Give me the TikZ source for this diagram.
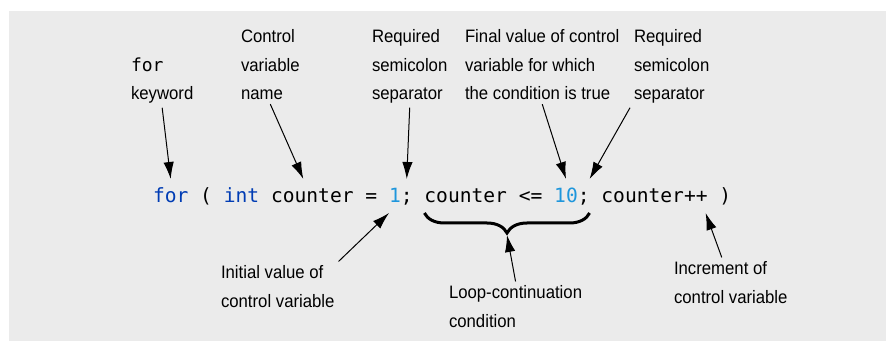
\documentclass[tikz,border=0pt]{standalone}
\usepackage{fontspec}
\usepackage{tikz}
\usetikzlibrary{calc,positioning,arrows.meta,decorations.pathreplacing}
\usepackage{xcolor}
\newfontfamily\codefont{DejaVu Sans Mono}
\newfontfamily\lblfont[FakeStretch=0.93]{Liberation Sans}
\definecolor{bgcol}{RGB}{235,235,235}
\definecolor{kwblue}{RGB}{0,60,180}
\definecolor{numblue}{RGB}{30,150,220}

\tikzset{
  code/.style={anchor=base west, inner sep=0pt, outer xsep=0pt, outer ysep=5pt,
    text height=7pt, text depth=0pt, font=\codefont\fontsize{9.8}{12}\selectfont},
  lbl/.style={anchor=base west, align=left, inner sep=0pt, outer sep=2pt,
    font=\lblfont\fontsize{9}{14.25}\selectfont},
  ptr/.style={-{Latex[length=8.5pt,width=5.2pt]}, line width=0.5pt}
}

\begin{document}
\begin{tikzpicture}[x=0.5pt, y=-0.5pt]
  \useasboundingbox (0,0) rectangle (886,341);
  \fill[bgcol] (9,11) rectangle (886,341);

  % the statement, one token per node (11.8 units per character)
  \def\cw{11.8}
  \node[code, kwblue]  (forkw) at (153+0*\cw,203)  {for};
  \node[code]          (lp)    at (153+4*\cw,203)  {(};
  \node[code, kwblue]  (intkw) at (153+6*\cw,203)  {int};
  \node[code]          (ctr)   at (153+10*\cw,203) {counter};
  \node[code]          (eq)    at (153+18*\cw,203) {=};
  \node[code, numblue] (init)  at (153+20*\cw,203) {1};
  \node[code]          (semi1) at (153+21*\cw,203) {;};
  \node[code]          (cond)  at (153+23*\cw,203) {counter};
  \node[code]          (le)    at (153+31*\cw,203) {<=};
  \node[code, numblue] (final) at (153+34*\cw,203) {10};
  \node[code]          (semi2) at (153+36*\cw,203) {;};
  \node[code]          (incr)  at (153+38*\cw,203) {counter++};
  \node[code]          (rp)    at (153+48*\cw,203) {)};

  % labels above (placed at the baseline of their last line)
  \node[lbl] (forlbl)     at (127,100) {{\codefont\fontsize{9}{14.25}\selectfont for}\\keyword};
  \node[lbl] (ctrlbl)     at (237,100) {Control\\variable\\name};
  \node[lbl] (semilbl)    at (368,100) {Required\\semicolon\\separator};
  \node[lbl] (finallbl)   at (461,100) {Final value of control\\variable for which\\the condition is true};
  \node[lbl] (semilbltwo) at (630,100) {Required\\semicolon\\separator};

  % labels below
  \node[lbl] (initlbl) at (217,307) {Initial value of\\control variable};
  \node[lbl] (condlbl) at (445,327) {Loop-continuation\\condition};
  \node[lbl] (incrlbl) at (670,303) {Increment of\\control variable};

  % brace under the condition
  \draw[line width=1.5pt, decorate, decoration={brace, mirror, amplitude=10pt}]
    (cond.south west) -- (semi2.south east);
  \coordinate (bracetip) at ($(cond.south west)!0.5!(semi2.south east)+(0,22)$);

  % pointers
  \draw[ptr] (forlbl.south) -- (forkw.north);
  \draw[ptr] (ctrlbl.south) -- ([xshift=-4.5pt]ctr.north);
  \draw[ptr] (semilbl.south) -- (semi1.north);
  \draw[ptr] (finallbl.south) -- (final.north);
  \draw[ptr] (semilbltwo.south west) -- (semi2.north east);
  \draw[ptr] (initlbl.north east) -- (init.south west);
  \draw[ptr] (condlbl.north) -- (bracetip);
  \draw[ptr] ([xshift=-4.5pt]incrlbl.north) -- ([xshift=-1pt]incr.south east);
\end{tikzpicture}
\end{document}
